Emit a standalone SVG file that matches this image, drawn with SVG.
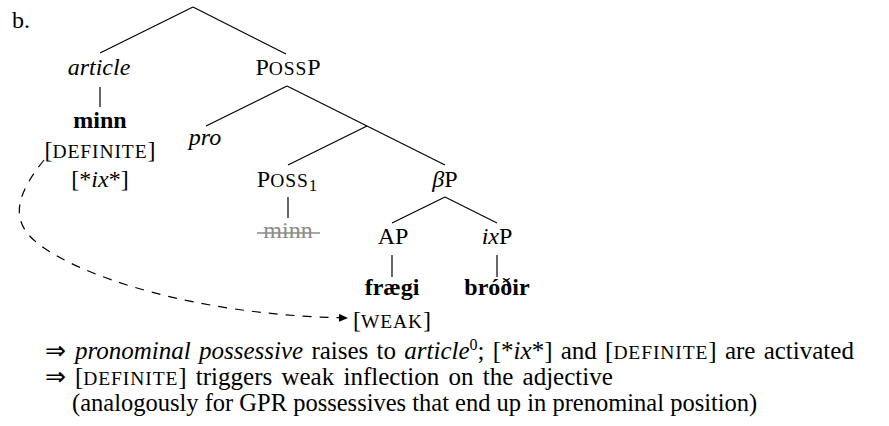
<svg xmlns="http://www.w3.org/2000/svg" width="889" height="426" viewBox="0 0 889 426">
<defs>
<style>
.t{font-size:24px;text-anchor:middle}
.b{font-weight:bold}
.i{font-style:italic}
.sc{font-size:19.5px;letter-spacing:0.9px}
.e{stroke:#000;stroke-width:1.2;fill:none}
.d{stroke:#000;stroke-width:1.2;fill:none;stroke-dasharray:9 8}
.n{font-size:25px}
</style>
<marker id="ah" markerUnits="userSpaceOnUse" markerWidth="9" markerHeight="8" refX="9" refY="4" orient="auto">
<path d="M0,0 L9,4 L0,8 z" fill="#000"/>
</marker>
</defs>
<rect width="889" height="426" fill="#fff"/>
<text x="12" y="28" font-size="24" font-family="Liberation Serif, serif">b.</text>
<g id="connectors">
<line class="e" x1="193" y1="7" x2="100" y2="53"/>
<line class="e" x1="193" y1="7" x2="286" y2="54"/>
<line class="e" x1="100" y1="87" x2="100" y2="107"/>
<line class="e" x1="287" y1="86" x2="206" y2="126"/>
<line class="e" x1="287" y1="86" x2="445" y2="165"/>
<line class="e" x1="367" y1="126" x2="288" y2="165"/>
<line class="e" x1="288" y1="197" x2="288" y2="218"/>
<line class="e" x1="445" y1="197" x2="392" y2="223"/>
<line class="e" x1="445" y1="197" x2="497" y2="223"/>
<line class="e" x1="392" y1="255" x2="392" y2="277"/>
<line class="e" x1="497" y1="255" x2="497" y2="277"/>
<path class="d" d="M44 160 C20 190 5 220 40 245 C80 275 190 315 348 318" marker-end="url(#ah)"/>
</g>
<g id="article"><text class="t i" x="99" y="75" font-family="Liberation Serif, serif">article</text></g>
<g id="possp"><text class="t" x="288" y="75" font-family="Liberation Serif, serif">P<tspan class="sc">OSS</tspan>P</text></g>
<g id="minn"><text class="t b" x="100" y="128" font-family="Liberation Serif, serif">minn</text></g>
<g id="definite"><text class="t" x="100" y="158" font-family="Liberation Serif, serif">[<tspan class="sc">DEFINITE</tspan>]</text></g>
<g id="ixfeat"><text class="t" x="100" y="187" font-family="Liberation Serif, serif">[*<tspan class="i">ix</tspan>*]</text></g>
<g id="pro"><text class="t i" x="205" y="145" font-family="Liberation Serif, serif">pro</text></g>
<g id="poss1"><text class="t" x="287" y="187" font-family="Liberation Serif, serif">P<tspan class="sc">OSS</tspan><tspan font-size="17" dy="4">1</tspan></text></g>
<g id="minn-struck"><text class="t" x="288" y="238" fill="#8a8a8a" font-family="Liberation Serif, serif">minn</text><line x1="257" y1="233" x2="320" y2="233" stroke="#8a8a8a" stroke-width="1.4"/></g>
<g id="betap"><text class="t" x="445" y="187" font-family="Liberation Serif, serif"><tspan class="i">β</tspan>P</text></g>
<g id="ap"><text class="t" x="393" y="244" font-family="Liberation Serif, serif">AP</text></g>
<g id="ixp"><text class="t" x="497" y="244" font-family="Liberation Serif, serif"><tspan class="i">ix</tspan>P</text></g>
<g id="fraegi"><text class="t b" x="392" y="295" font-family="Liberation Serif, serif">frægi</text></g>
<g id="brodir"><text class="t b" x="497" y="295" font-family="Liberation Serif, serif">bróðir</text></g>
<g id="weak"><text x="353" y="328" font-size="24" font-family="Liberation Serif, serif">[<tspan class="sc">WEAK</tspan>]</text></g>
<g id="notes">
<text class="n" x="45" y="359" font-family="Liberation Serif, serif">⇒</text>
<text class="n" x="75" y="359" word-spacing="2" font-family="Liberation Serif, serif"><tspan class="i">pronominal possessive</tspan> raises to <tspan class="i">article</tspan><tspan font-size="16" dy="-9">0</tspan><tspan dy="9">; [*</tspan><tspan class="i">ix</tspan>*] and [<tspan class="sc">DEFINITE</tspan>] are activated</text>
<text class="n" x="45" y="385" font-family="Liberation Serif, serif">⇒</text>
<text class="n" x="75" y="385" word-spacing="3" font-family="Liberation Serif, serif">[<tspan class="sc">DEFINITE</tspan>] triggers weak inflection on the adjective</text>
<text x="72" y="411" font-size="24.5" font-family="Liberation Serif, serif">(analogously for GPR possessives that end up in prenominal position)</text>
</g>
</svg>
